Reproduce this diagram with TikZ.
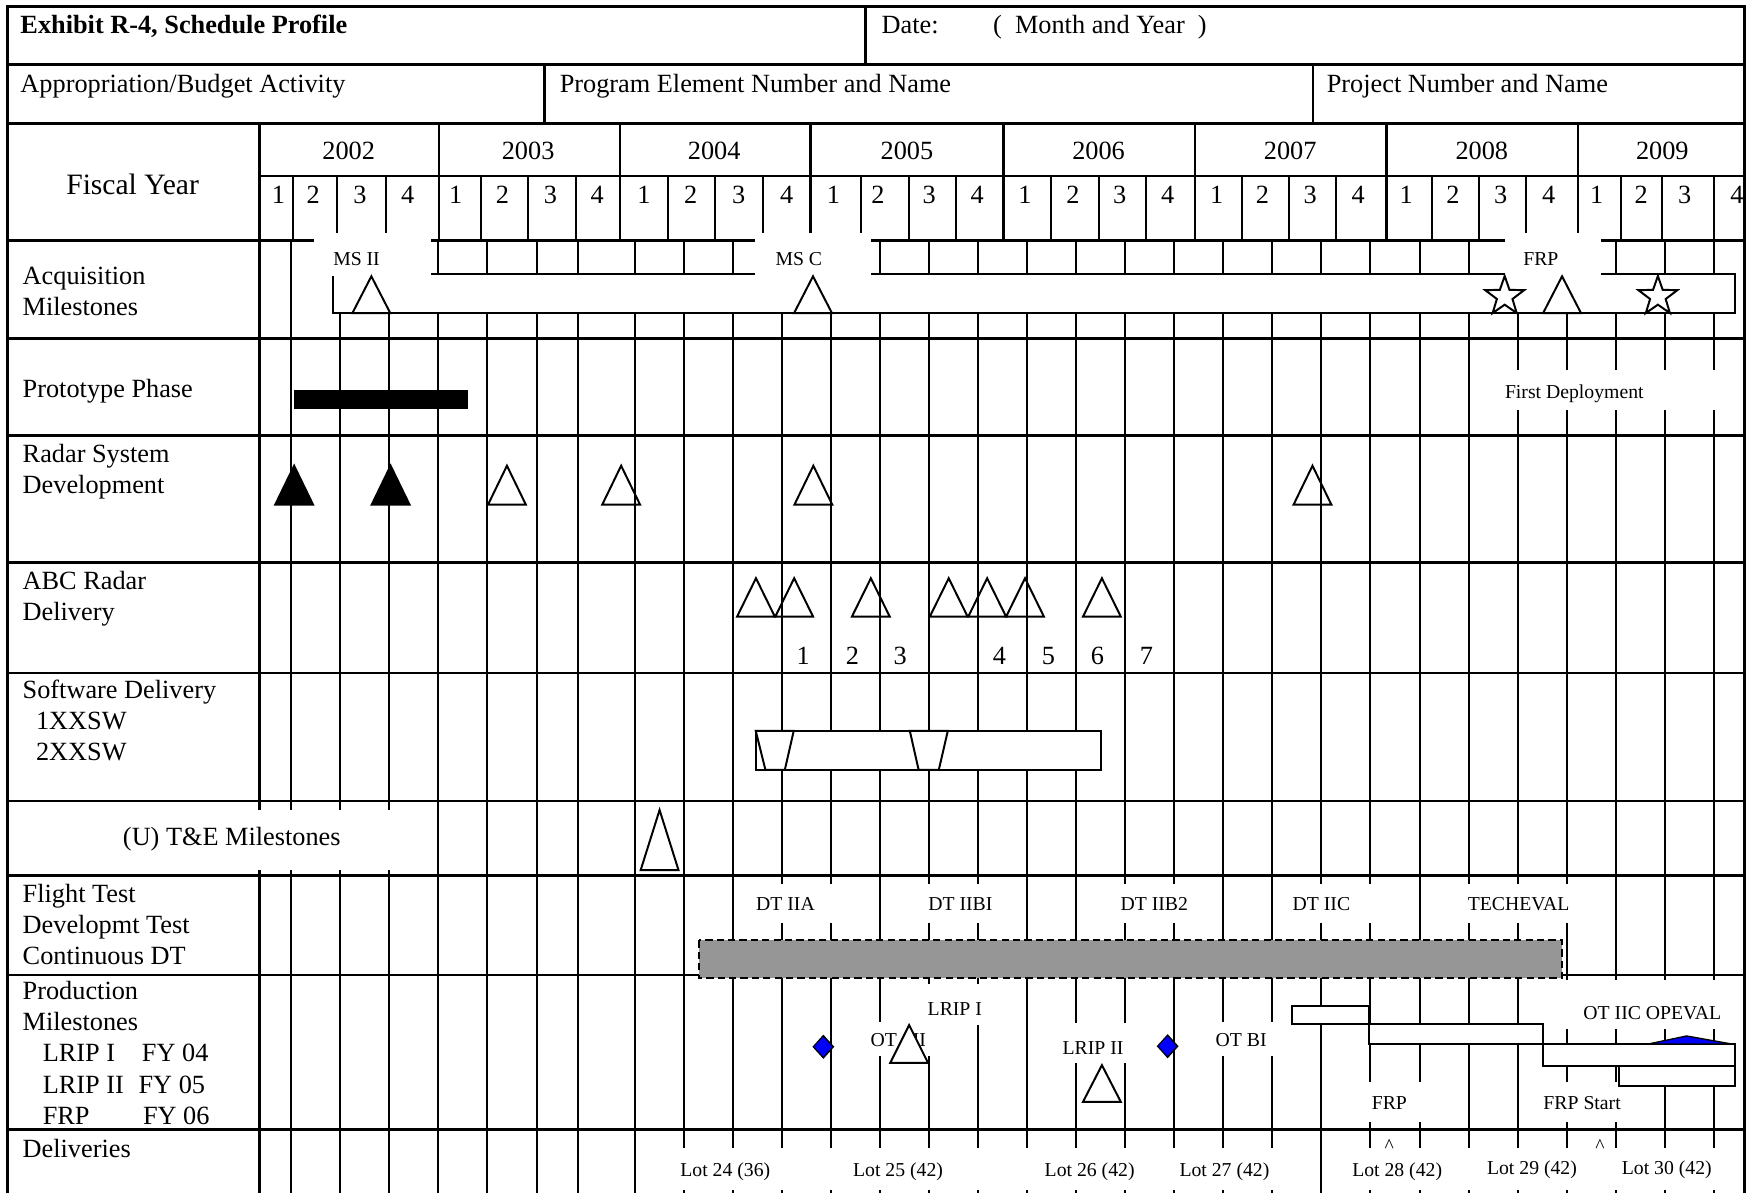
\documentclass[tikz,border=0pt]{standalone}
\usepackage{fontspec}
\setmainfont{Liberation Serif}
\usetikzlibrary{shapes.geometric}

\definecolor{dtgray}{RGB}{150,150,150}
\definecolor{msblue}{RGB}{0,0,250}

% milestone triangle: [fill]{x}{apex y}{base y}
\newcommand{\mstri}[4][none]{%
  \draw[outl,fill=#1] ({#2-17},#4) -- (#2,#3) -- ({#2+17},#4) -- cycle;}

\begin{document}
\begin{tikzpicture}[x=0.5085pt,y=-0.5085pt,
  lbl/.style={anchor=base west,inner sep=0pt,font=\fontsize{12}{14}\selectfont},
  ctr/.style={anchor=base,inner sep=0pt,font=\fontsize{12}{14}\selectfont},
  tag/.style={anchor=base,inner sep=0pt,font=\fontsize{9}{10}\selectfont},
  rowline/.style={line width=1.2pt},
  gridline/.style={line width=0.9pt},
  cover/.style={fill=white},
  outl/.style={draw=black,line width=0.9pt},
  gem/.style={draw=black,line width=0.6pt,fill=msblue}]
\useasboundingbox (0,0) rectangle (1568,1071);

% frame and rows
\draw[rowline] (7,1071) -- (7,6) -- (1565.5,6) -- (1565.5,1071);
\foreach \y in {58,111,216,304,391,505,604,719,786,875,1014}
  \draw[rowline] (7,\y) -- (1565.5,\y);
\draw[rowline] (233,158) -- (1565.5,158);
\draw[rowline] (777,6) -- (777,58);
\draw[rowline] (488.5,58) -- (488.5,111);
\draw[rowline] (1178.5,58) -- (1178.5,111);
\draw[rowline] (233,111) -- (233,1071);
\foreach \x in {394,556.5,727.5,900.5,1072.5,1244.5,1416.3}
  \draw[rowline] (\x,111) -- (\x,216);
\foreach \x in {262.7,302.9,346.2,431.7,473.9,516.7,599.6,641.7,684.8,773,816,858.4,
    943.5,986,1028.8,1114.5,1157,1199.2,1285,1327.6,1370,1455,1492,1538}
  \draw[gridline] (\x,158) -- (\x,216);
\foreach \x in {261.6,305,349,392.7,436.7,482,519,569.6,613.6,657.6,701.7,745.7,789.7,
    833.8,877.8,921.8,965.8,1009.9,1053.9,1097.9,1142,1186,1230,1274.1,1318.1,1362.1,
    1406.2,1450.2,1494.2,1538.2}
  \draw[gridline] (\x,216) -- (\x,1071);

% bars
\draw[outl,fill=white] (299,246) rectangle (1557,281);
\fill (264,350) rectangle (420,367);
\draw[outl,fill=white] (678.3,656) rectangle (988,691);
\draw[line width=0.9pt,dash pattern=on 3.3pt off 1.9pt,fill=dtgray] (627,844) rectangle (1402,878);
\draw[outl,fill=white] (1160,903) rectangle (1229,919);
\draw[outl,fill=white] (1229,919) rectangle (1385,937);
\draw[outl,fill=white] (1385,937) rectangle (1557,957);
\draw[outl,fill=white] (1453,957) rectangle (1557,975);

% white boxes behind labels
\foreach \a/\b/\c/\d in {282/209/387/247.5,678/209/782/247.5,1351/209/1437/247.5,
    1340/332/1548/368,100/727/372/781,672/793/765/828,812/793/905/828,992/793/1075/828,
    1165/793/1245/828,1300/793/1415/828,825/883/890/920,779/917/836/948,950/918/1015/954,
    1085/917/1150/948,1395/880/1550/924,1215/971/1285/1007,1380/971/1451/1007,
    592/1030/1165/1068,1205/1030/1560/1068}
  \fill[cover] (\a,\b) rectangle (\c,\d);

% header texts
\node[lbl,font=\bfseries\fontsize{12}{14}\selectfont] (exh) at (18,30) {Exhibit R-4, Schedule Profile};
\node[lbl] (dat) at (791,30) {Date:};
\node[lbl] (mny) at (891,30) {(\hspace{6pt}Month and Year\hspace{6pt})};
\node[lbl] (app) at (18,83) {Appropriation/Budget Activity};
\node[lbl] (pen) at (502,83) {Program Element Number and Name};
\node[lbl] (pnn) at (1190.5,83) {Project Number and Name};
\node[ctr,font=\fontsize{13.5}{16}\selectfont] (fy) at (119,175) {Fiscal Year};
\foreach \x/\yr in {313/2002,474/2003,641/2004,814/2005,986/2006,1158/2007,1330/2008,1492/2009}
  \node[ctr] (y\yr) at (\x,143) {\yr};
\foreach \x/\q [count=\i] in {250/1,281/2,323/3,366/4,409/1,451/2,494/3,536/4,578/1,620/2,
    663/3,706/4,748/1,788/2,834/3,877/4,920/1,963/2,1005/3,1048/4,1092/1,1133/2,1176/3,
    1219/4,1262/1,1304/2,1347/3,1390/4,1433/1,1473/2,1512/3,1559/4}
  \node[ctr] (q\i) at (\x,183) {\q};

% row labels
\node[lbl] (acq1) at (20,255) {Acquisition};
\node[lbl] (acq2) at (20,283) {Milestones};
\node[lbl] (pro) at (20,357) {Prototype Phase};
\node[lbl] (rad1) at (20,415) {Radar System};
\node[lbl] (rad2) at (20,443) {Development};
\node[lbl] (abc1) at (20,529) {ABC Radar};
\node[lbl] (abc2) at (20,557) {Delivery};
\node[lbl] (sw1) at (20,627) {Software Delivery};
\node[lbl] (sw2) at (32,655) {1XXSW};
\node[lbl] (sw3) at (32,683) {2XXSW};
\node[lbl] (te) at (110,759) {(U) T\&E Milestones};
\node[lbl] (ft1) at (20,810) {Flight Test};
\node[lbl] (ft2) at (20,838) {Developmt Test};
\node[lbl] (ft3) at (20,866) {Continuous DT};
\node[lbl] (pm1) at (20,897) {Production};
\node[lbl] (pm2) at (20,925) {Milestones};
\node[lbl] (pm3) at (38,953) {LRIP I};
\node[lbl] (pm3b) at (127,953) {FY 04};
\node[lbl] (pm4) at (38,981) {LRIP II};
\node[lbl] (pm4b) at (124,981) {FY 05};
\node[lbl] (pm5) at (38,1009) {FRP};
\node[lbl] (pm5b) at (128,1009) {FY 06};
\node[lbl] (del) at (20,1039) {Deliveries};

% delivery numbers
\foreach \x/\n in {721/1,765/2,808/3,897/4,941/5,985/6,1029/7}
  \node[ctr] (n\n) at (\x,596) {\n};

% small tags
\node[tag] (ms2) at (320,238) {MS II};
\node[tag] (msc) at (717,238) {MS C};
\node[tag] (frp1) at (1383,238) {FRP};
\node[tag] (fdep) at (1413,358) {First Deployment};
\node[tag] (dt1) at (705,817) {DT IIA};
\node[tag] (dt2) at (862,817) {DT IIBI};
\node[tag] (dt3) at (1036,817) {DT IIB2};
\node[tag] (dt4) at (1186,817) {DT IIC};
\node[tag] (tev) at (1363,817) {TECHEVAL};
\node[tag] (lr1) at (857,911) {LRIP I};
\node[tag,anchor=base west] (ot2) at (781,939) {OT\hspace{5pt} II};
\node[tag] (lr2) at (981,946) {LRIP II};
\node[tag] (otb) at (1114,939) {OT BI};
\node[tag] (opv) at (1483,915) {OT IIC OPEVAL};
\node[tag] (frp2) at (1247,996) {FRP};
\node[tag] (frps) at (1420,996) {FRP Start};
\foreach \x/\y/\t [count=\i] in {651/1056/Lot 24 (36),806/1056/Lot 25 (42),978/1056/Lot 26 (42),
    1099/1056/Lot 27 (42),1254/1056/Lot 28 (42),1375/1054/Lot 29 (42),1496/1054/Lot 30 (42)}
  \node[tag] (lot\i) at (\x,\y) {\t};
\node[tag] (crt1) at (1247,1034) {\textasciicircum};
\node[tag] (crt2) at (1436,1034) {\textasciicircum};

% milestones
\mstri{333.3}{248}{281}
\mstri{729.7}{248}{281}
\mstri{1402}{248}{281}
\foreach \x [count=\i] in {1350.5,1488}
  \node[star,star points=5,star point ratio=2.5,draw,fill=white,line width=0.9pt,
    minimum size=18.7pt,inner sep=0pt] (st\i) at (\x,266.1) {};
\mstri[black]{264}{418}{453}
\mstri[black]{350.6}{418}{453}
\foreach \x in {455,557.5,730,1178}
  {\mstri{\x}{418}{453}}
\foreach \x in {678.5,712.8,781.6,851.5,886,920,989}
  {\mstri{\x}{519}{553.5}}
\mstri{592}{727}{781}
\mstri[white]{816}{920}{954}
\mstri[white]{989}{956}{989}

% software drops
\draw[outl,fill=white] (678.3,656) -- (712.4,656) -- (704.4,691) -- (687,691) -- cycle;
\draw[outl,fill=white] (816.6,656) -- (850.7,656) -- (842.6,691) -- (824.5,691) -- cycle;

% production marks
\draw[gem] (739,929.5) -- (748,939.5) -- (739,949.5) -- (730,939.5) -- cycle;
\draw[gem] (1048,929) -- (1057,939) -- (1048,949) -- (1039,939) -- cycle;
\draw[gem] (1479.4,937) -- (1513.8,929.8) -- (1554.2,937) -- cycle;
\end{tikzpicture}
\end{document}
